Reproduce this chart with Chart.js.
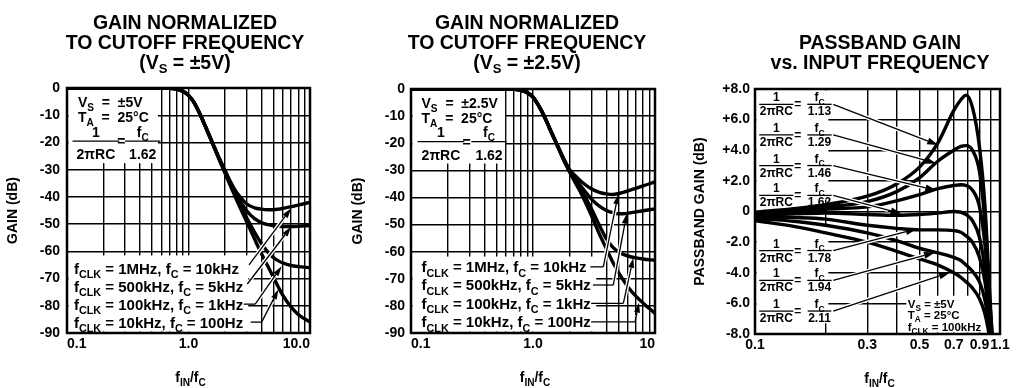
<!DOCTYPE html>
<html>
<head>
<meta charset="utf-8">
<title>Gain normalized to cutoff frequency / passband gain</title>
<script src="https://cdn.jsdelivr.net/npm/chart.js@4.4.1/dist/chart.umd.min.js"></script>
<style>
  html, body { margin: 0; padding: 0; background: #fff; }
  body { position: relative; width: 1024px; height: 388px; overflow: hidden; font-family: "Liberation Sans", Arial, sans-serif; }
  canvas { position: absolute; top: 0; }
  .title { position: absolute; width: 300px; text-align: center; font-weight: bold; font-size: 19.5px; line-height: 20px; white-space: nowrap; color: #000; }
  .title sub { font-size: 13px; line-height: 0; vertical-align: -4px; }
</style>
</head>
<body>
<canvas id="gain5" width="340" height="388" style="left:0"></canvas>
<canvas id="gain25" width="340" height="388" style="left:340px"></canvas>
<canvas id="passband" width="344" height="388" style="left:680px"></canvas>
<div class="title" style="left:35px;top:12px">GAIN NORMALIZED<br>TO CUTOFF FREQUENCY<br>(V<sub>S</sub> = ±5V)</div>
<div class="title" style="left:377px;top:12px">GAIN NORMALIZED<br>TO CUTOFF FREQUENCY<br>(V<sub>S</sub> = ±2.5V)</div>
<div class="title" style="left:730px;top:32px">PASSBAND GAIN<br>vs. INPUT FREQUENCY</div>
<script>
// ---- data ----

// f_IN / f_C for the two cutoff plots
const ratio = [0.1, 0.5, 0.7, 0.8, 0.9, 1.0, 1.1, 1.25, 1.4, 1.6, 1.8, 2.0, 2.25, 2.5, 3.0, 3.5, 4.0, 4.5, 5.0, 5.5, 6.0, 7.0, 8.0, 10];

// gain (dB), Vs = ±5V
const gain5_1MHz   = [0, 0, -0.1, -0.4, -1.2, -2.7, -5.0, -9.8, -14.8, -20.8, -26.0, -30.3, -35.0, -38.5, -42.5, -44.0, -44.5, -44.7, -44.7, -44.5, -44.2, -43.6, -43.0, -42.0];
const gain5_500kHz = [0, 0, -0.1, -0.4, -1.2, -2.7, -5.0, -9.8, -14.8, -20.9, -26.2, -30.7, -35.6, -39.5, -45.0, -48.0, -49.5, -50.2, -50.6, -50.8, -50.9, -50.9, -50.8, -50.5];
const gain5_100kHz = [0, 0, -0.1, -0.4, -1.2, -2.7, -5.0, -9.8, -14.9, -21.0, -26.4, -31.0, -36.2, -40.5, -47.5, -53.0, -57.3, -60.3, -62.3, -63.5, -64.3, -65.2, -65.6, -66.0];
const gain5_10kHz  = [0, 0, -0.1, -0.4, -1.2, -2.7, -5.0, -9.8, -14.9, -21.1, -26.6, -31.3, -36.7, -41.3, -49.0, -55.5, -61.0, -65.5, -69.5, -73.2, -76.3, -80.5, -83.2, -86.0];

// gain (dB), Vs = ±2.5V
const gain25_1MHz   = [0, 0, -0.1, -0.5, -1.4, -3.0, -5.8, -10.5, -15.5, -21.1, -26.0, -29.8, -32.3, -34.2, -36.8, -38.1, -38.7, -38.9, -38.6, -38.1, -37.6, -36.6, -35.7, -34.3];
const gain25_500kHz = [0, 0, -0.1, -0.5, -1.4, -3.0, -5.8, -10.5, -15.5, -21.2, -26.2, -30.2, -33.5, -36.2, -40.5, -43.2, -44.8, -45.6, -46.0, -46.0, -45.8, -45.3, -44.9, -44.2];
const gain25_100kHz = [0, 0, -0.1, -0.5, -1.4, -3.0, -5.8, -10.5, -15.6, -21.3, -26.4, -30.5, -34.3, -37.5, -44.0, -50.3, -55.3, -58.3, -60.0, -61.0, -61.6, -62.3, -62.7, -63.2];
const gain25_10kHz  = [0, 0, -0.1, -0.5, -1.4, -3.0, -5.8, -10.5, -15.6, -21.4, -26.6, -30.7, -35.0, -38.8, -46.5, -53.5, -59.0, -63.8, -67.5, -70.5, -73.0, -76.5, -79.0, -82.8];

const clkLabels = [
  'f_{CLK} = 1MHz, f_{C} = 10kHz',
  'f_{CLK} = 500kHz, f_{C} = 5kHz',
  'f_{CLK} = 100kHz, f_{C} = 1kHz',
  'f_{CLK} = 10kHz, f_{C} = 100Hz'
];

// passband gain (dB) vs f_IN / f_C, one curve per 1/(2πRC) = fC / divisor
const passRatio = [0.1, 0.15, 0.2, 0.3, 0.4, 0.5, 0.6, 0.7, 0.75, 0.79, 0.84, 0.9, 0.95, 1.0, 1.05, 1.1];
const pass113 = [-0.05, 0.2, 0.45, 1.0, 1.8, 2.9, 4.5, 6.6, 7.3, 7.6, 6.8, 4.2, 0.3, -6.0, -11, -14];
const pass129 = [-0.1, 0.15, 0.3, 0.65, 1.3, 2.2, 3.3, 4.0, 4.25, 4.3, 4.0, 2.6, -0.8, -6.3, -11, -14];
const pass146 = [-0.15, 0.0, 0.15, 0.3, 0.7, 1.1, 1.5, 1.7, 1.75, 1.7, 1.4, 0.3, -2.2, -6.7, -11, -14];
const pass162 = [-0.25, -0.15, -0.1, -0.2, -0.25, -0.2, -0.1, 0.0, -0.05, -0.2, -0.6, -1.7, -3.8, -7.2, -11, -14];
const pass178 = [-0.35, -0.4, -0.5, -0.9, -1.1, -1.2, -1.2, -1.25, -1.35, -1.6, -2.0, -3.0, -4.6, -7.6, -11, -14];
const pass194 = [-0.45, -0.65, -0.9, -1.4, -1.9, -2.4, -2.7, -3.0, -3.2, -3.5, -3.9, -4.6, -5.8, -8.0, -11, -14];
const pass211 = [-0.6, -1.0, -1.4, -2.0, -2.6, -3.1, -3.5, -4.0, -4.3, -4.6, -5.0, -5.7, -6.7, -8.5, -11, -14];
const rcDivisors = ['1.13', '1.29', '1.46', '1.62', '1.78', '1.94', '2.11'];

// axis ticks
const ratioTicks = [0.1, 0.2, 0.3, 0.4, 0.5, 0.6, 0.7, 0.8, 0.9, 1, 2, 3, 4, 5, 6, 7, 8, 9, 10];
const ratioLabels5 = { 0.1: '0.1', 1: '1.0', 10: '10.0' };
const ratioLabels25 = { 0.1: '0.1', 1: '1.0', 10: '10' };
const passTicks = [0.1, 0.2, 0.3, 0.4, 0.5, 0.6, 0.7, 0.8, 0.9, 1.0, 1.1];
const passLabels = { 0.1: '0.1', 0.3: '0.3', 0.5: '0.5', 0.7: '0.7', 0.9: '0.9', 1.1: '1.1' };

// ---- annotations, placed in data units ----
const notes5 = {
  size: 14, numGap: 4.5, denGap: 18, barPad: 8, eqDrop: 5, head: [10, 3],
  boxes: [[0.1, 0.56, 0, -27.6], [0.1, 3.1, -61.5, -90]],
  texts: [
    ['V_{S}  =  ±5V', 0.123, -6.9], ['T_{A}  =  25°C', 0.123, -12.4],
    [clkLabels[0], 0.114, -68.2, 15], [clkLabels[1], 0.114, -74.8, 15],
    [clkLabels[2], 0.114, -81.4, 15], [clkLabels[3], 0.114, -88.0, 15]
  ],
  eqs: [[0.28, -19.5]],
  fracs: [['1', '2πRC', 0.173, -19.5], ['f_{C}', '1.62', 0.42, -19.5]],
  leaders: [[2.85, 3.54, -79.4], [3.25, 4.0, -86.0]],
  arrows: [[3.15, -65.0, 7.0, -44.2], [3.05, -72.0, 7.0, -51.0], [3.54, -79.4, 5.85, -65.5], [4.0, -86.0, 5.5, -74.0]]
};

const notes25 = {
  size: 14, numGap: 4.5, denGap: 18, barPad: 8, eqDrop: 5, head: [10, 3],
  boxes: [[0.1, 0.59, 0, -27.5], [0.1, 3.3, -61.8, -90]],
  texts: [
    ['V_{S}  =  ±2.5V', 0.122, -7.0], ['T_{A}  =  25°C', 0.122, -12.5],
    [clkLabels[0], 0.122, -67.6, 15], [clkLabels[1], 0.122, -74.3, 15],
    [clkLabels[2], 0.122, -81.1, 15], [clkLabels[3], 0.122, -87.9, 15]
  ],
  eqs: [[0.286, -19.4]],
  fracs: [['1', '2πRC', 0.176, -19.4], ['f_{C}', '1.62', 0.436, -19.4]],
  leaders: [[2.95, 3.77, -65.6], [3.1, 4.55, -72.3], [3.0, 5.5, -79.1], [3.0, 6.86, -85.9]],
  arrows: [[3.77, -65.6, 5.0, -38.8], [4.55, -72.3, 5.86, -46.0], [5.5, -79.1, 6.64, -62.3], [6.86, -85.9, 7.4, -78.8]]
};

const passBarGain = [7, 5, 3, 1.05, -2.55, -4.5, -6.5];
const passArrowEnd = [[0.601, 4.34], [0.59, 3.14], [0.59, 1.38], [0.42, -0.15], [0.487, -1.14], [0.582, -2.67], [0.674, -3.98]];
const notesPass = {
  size: 12, numGap: 3, denGap: 11, barPad: 1, eqDrop: 4, head: [11, 3.5],
  boxes: [[0.1, 0.205, 8, 0.75], [0.1, 0.205, -0.9, -7.3], [0.44, 0.95, -5.5, -8]],
  texts: [['V_{S} = ±5V', 0.446, -6.27, 11.5], ['T_{A} = 25°C', 0.446, -6.99, 11.5], ['f_{CLK} = 100kHz', 0.446, -7.78, 11.5]],
  eqs: passBarGain.map(g => [0.152, g]),
  fracs: passBarGain.flatMap((g, i) => [['1', '2πRC', 0.1232, g], ['f_{C}', rcDivisors[i], 0.188, g]]),
  leaders: [],
  arrows: passBarGain.map((g, i) => [0.215, g, passArrowEnd[i][0], passArrowEnd[i][1]])
};

// ---- drawing ----
const FONT = '"Liberation Sans", Arial, Helvetica, sans-serif';
Chart.defaults.font.family = FONT;
Chart.defaults.font.weight = 'bold';
Chart.defaults.color = '#000';

// "f_{CLK}" style markup -> text runs with subscripts
function segments(str) {
  const out = [];
  const re = /_\{([^}]*)\}/g;
  let last = 0, m;
  while ((m = re.exec(str)) !== null) {
    if (m.index > last) out.push({ t: str.slice(last, m.index), sub: false });
    out.push({ t: m[1], sub: true });
    last = re.lastIndex;
  }
  if (last < str.length) out.push({ t: str.slice(last), sub: false });
  return out;
}

function drawRich(ctx, str, x, y, size, align) {
  const segs = segments(str);
  let w = 0;
  segs.forEach(s => {
    ctx.font = 'bold ' + (s.sub ? size * 0.72 : size) + 'px ' + FONT;
    s.w = ctx.measureText(s.t).width;
    w += s.w;
  });
  let cx = align === 'center' ? x - w / 2 : x;
  ctx.textAlign = 'left';
  ctx.textBaseline = 'alphabetic';
  segs.forEach(s => {
    ctx.font = 'bold ' + (s.sub ? size * 0.72 : size) + 'px ' + FONT;
    ctx.fillText(s.t, cx, s.sub ? y + size * 0.3 : y);
    cx += s.w;
  });
  return w;
}

function drawArrow(ctx, x0, y0, x1, y1, len, half) {
  const a = Math.atan2(y1 - y0, x1 - x0), c = Math.cos(a), s = Math.sin(a);
  const bx = x1 - c * len, by = y1 - s * len;
  // white gap where the pointer crosses curves and grid
  ctx.save();
  ctx.strokeStyle = '#fff';
  ctx.lineWidth = 4;
  ctx.beginPath(); ctx.moveTo(x0 + c * 5, y0 + s * 5); ctx.lineTo(bx - c * 3, by - s * 3); ctx.stroke();
  ctx.restore();
  ctx.lineWidth = 1.3;
  ctx.beginPath(); ctx.moveTo(x0, y0); ctx.lineTo(bx, by); ctx.stroke();
  ctx.beginPath();
  ctx.moveTo(x1, y1);
  ctx.lineTo(bx - s * half, by + c * half);
  ctx.lineTo(bx + s * half, by - c * half);
  ctx.closePath();
  ctx.fill();
}

const notesPlugin = {
  id: 'notes',
  beforeDatasetsDraw(chart, args, o) {
    const { ctx, chartArea: a, scales: { x, y } } = chart;
    ctx.save();
    ctx.fillStyle = '#fff';
    (o.boxes || []).forEach(([f0, f1, g0, g1]) => {
      const l = Math.max(x.getPixelForValue(f0), a.left + 1.5);
      const r = Math.min(x.getPixelForValue(f1), a.right - 1.5);
      const t = Math.max(y.getPixelForValue(g0), a.top + 1.5);
      const b = Math.min(y.getPixelForValue(g1), a.bottom - 1.5);
      ctx.fillRect(l, t, r - l, b - t);
    });
    ctx.restore();
  },
  afterDatasetsDraw(chart, args, o) {
    const { ctx, chartArea: a, scales: { x, y } } = chart;
    const X = v => x.getPixelForValue(v), Y = v => y.getPixelForValue(v);
    ctx.save();
    ctx.fillStyle = '#000';
    ctx.strokeStyle = '#000';
    (o.texts || []).forEach(([s, f, g, size]) => drawRich(ctx, s, X(f), Y(g), size || o.size, 'left'));
    (o.eqs || []).forEach(([f, g]) => drawRich(ctx, '=', X(f), Y(g) + o.eqDrop, o.size, 'center'));
    (o.fracs || []).forEach(([num, den, f, g]) => {
      const cx = X(f), cy = Y(g);
      const w = Math.max(
        drawRich(ctx, num, cx, cy - o.numGap, o.size, 'center'),
        drawRich(ctx, den, cx, cy + o.denGap, o.size, 'center')) + o.barPad;
      ctx.lineWidth = 1.3;
      ctx.beginPath(); ctx.moveTo(cx - w / 2, cy); ctx.lineTo(cx + w / 2, cy); ctx.stroke();
    });
    ctx.lineWidth = 1.3;
    (o.leaders || []).forEach(([f0, f1, g]) => {
      ctx.beginPath(); ctx.moveTo(X(f0), Y(g)); ctx.lineTo(X(f1), Y(g)); ctx.stroke();
    });
    (o.arrows || []).forEach(([f0, g0, f1, g1]) => drawArrow(ctx, X(f0), Y(g0), X(f1), Y(g1), o.head[0], o.head[1]));
    // plot frame
    ctx.lineWidth = 2.5;
    ctx.strokeRect(a.left, a.top, a.right - a.left, a.bottom - a.top);
    // x axis title with subscripts
    drawRich(ctx, 'f_{IN}/f_{C}', (a.left + a.right) / 2 + 2, a.bottom + 49, 14, 'center');
    ctx.restore();
  }
};

function buildChart(id, cfg) {
  return new Chart(document.getElementById(id), {
    type: 'line',
    data: {
      datasets: cfg.series.map(values => ({
        data: cfg.x.map((v, i) => ({ x: v, y: values[i] })),
        borderColor: '#000',
        borderWidth: 3.4,
        pointRadius: 0,
        fill: false,
        cubicInterpolationMode: 'monotone'
      }))
    },
    plugins: [notesPlugin],
    options: {
      responsive: false,
      animation: false,
      events: [],
      layout: { padding: cfg.padding },
      plugins: {
        legend: { display: false },
        tooltip: { enabled: false },
        notes: cfg.notes
      },
      scales: {
        x: {
          type: 'logarithmic',
          min: cfg.xTicks[0],
          max: cfg.xTicks[cfg.xTicks.length - 1],
          afterBuildTicks: s => { s.ticks = cfg.xTicks.map(v => ({ value: v })); },
          afterFit: s => { s.height = cfg.xHeight; },
          grid: { color: '#000', lineWidth: 1.4, drawTicks: false },
          border: { display: false },
          ticks: {
            autoSkip: false, maxRotation: 0, padding: 3, align: cfg.xAlign,
            font: { size: 14, weight: 'bold' },
            callback: v => cfg.xLabels[v] ?? ''
          }
        },
        y: {
          type: 'linear',
          min: cfg.yMin, max: cfg.yMax,
          afterFit: s => { s.width = cfg.yWidth; },
          grid: { color: '#000', lineWidth: 1.4, drawTicks: false },
          border: { display: false },
          ticks: {
            stepSize: cfg.yStep, padding: cfg.yTickPad,
            font: { size: 14, weight: 'bold' },
            callback: cfg.yFormat
          },
          title: {
            display: true, text: cfg.yTitle, color: '#000',
            font: { size: 14, weight: 'bold' },
            padding: { top: cfg.yTitlePad, bottom: 0 }
          }
        }
      }
    }
  });
}

const dbFormat = v => (v === 0 ? '0' : '-' + Math.abs(v));
const passFormat = v => (v === 0 ? '0' : (v > 0 ? '+' : '-') + Math.abs(v).toFixed(1));

buildChart('gain5', {
  x: ratio, series: [gain5_1MHz, gain5_500kHz, gain5_100kHz, gain5_10kHz],
  xTicks: ratioTicks, xLabels: ratioLabels5, xAlign: 'inner', xHeight: 55,
  yMin: -90, yMax: 0, yStep: 10, yWidth: 67, yTickPad: 7, yTitlePad: 4.6,
  yTitle: 'GAIN (dB)', yFormat: dbFormat,
  padding: { left: 0, right: 30, top: 88, bottom: 0 },
  notes: notes5
});

buildChart('gain25', {
  x: ratio, series: [gain25_1MHz, gain25_500kHz, gain25_100kHz, gain25_10kHz],
  xTicks: ratioTicks, xLabels: ratioLabels25, xAlign: 'inner', xHeight: 55,
  yMin: -90, yMax: 0, yStep: 10, yWidth: 71, yTickPad: 6, yTitlePad: 9.9,
  yTitle: 'GAIN (dB)', yFormat: dbFormat,
  padding: { left: 0, right: 25, top: 89, bottom: 0 },
  notes: notes25
});

buildChart('passband', {
  x: passRatio, series: [pass113, pass129, pass146, pass162, pass178, pass194, pass211],
  xTicks: passTicks, xLabels: passLabels, xAlign: 'center', xHeight: 54,
  yMin: -8, yMax: 8, yStep: 2, yWidth: 75, yTickPad: 5, yTitlePad: 11.6,
  yTitle: 'PASSBAND GAIN (dB)', yFormat: passFormat,
  padding: { left: 0, right: 24, top: 89, bottom: 0 },
  notes: notesPass
});
</script>
</body>
</html>
